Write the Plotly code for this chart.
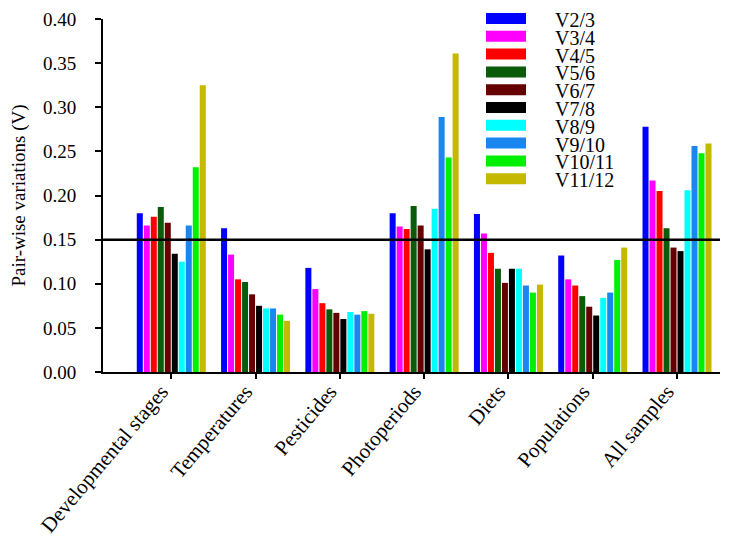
import plotly.graph_objects as go

categories = ["Developmental stages", "Temperatures", "Pesticides", "Photoperiods",
              "Diets", "Populations", "All samples"]
series_names = ["V2/3", "V3/4", "V4/5", "V5/6", "V6/7", "V7/8", "V8/9", "V9/10", "V10/11", "V11/12"]
series_colors = ["#0000FF", "#FF00FF", "#FF0000", "#0A5C0A", "#660000", "#000000",
                 "#00FFFF", "#1A86F0", "#00F000", "#C4B800"]

# values per series, ordered as categories
v2_3   = [0.180, 0.163, 0.118, 0.180, 0.179, 0.132, 0.278]
v3_4   = [0.166, 0.133, 0.094, 0.165, 0.157, 0.105, 0.217]
v4_5   = [0.176, 0.105, 0.078, 0.162, 0.135, 0.098, 0.205]
v5_6   = [0.187, 0.102, 0.071, 0.188, 0.117, 0.086, 0.163]
v6_7   = [0.169, 0.088, 0.067, 0.166, 0.101, 0.074, 0.141]
v7_8   = [0.134, 0.075, 0.060, 0.139, 0.117, 0.064, 0.137]
v8_9   = [0.125, 0.072, 0.068, 0.185, 0.117, 0.084, 0.206]
v9_10  = [0.166, 0.072, 0.065, 0.289, 0.098, 0.090, 0.256]
v10_11 = [0.232, 0.065, 0.069, 0.243, 0.090, 0.127, 0.248]
v11_12 = [0.325, 0.058, 0.066, 0.361, 0.099, 0.141, 0.259]
series_values = [v2_3, v3_4, v4_5, v5_6, v6_7, v7_8, v8_9, v9_10, v10_11, v11_12]

threshold = 0.15
y_ticks = [0.00, 0.05, 0.10, 0.15, 0.20, 0.25, 0.30, 0.35, 0.40]

FONT = "Liberation Serif"
OFF = 8                      # default page body margin
W, H = 717, 531
ML, MR, MT, MB = 95, 5, 11, 167
PW, PH = W - ML - MR, H - MT - MB

fig = go.Figure()
for name, color, vals in zip(series_names, series_colors, series_values):
    fig.add_trace(go.Bar(x=categories, y=vals, name=name, marker_color=color,
                         marker_line_width=0, showlegend=False))

fig.add_shape(type="line", xref="paper", yref="y", x0=0, x1=1, y0=threshold, y1=threshold,
              line=dict(color="black", width=2.5))

# manual legend (wide swatches like the original); page-pixel helpers
def px_x(x):
    return (x - OFF - ML) / PW

def px_y(y):
    return (OFF + H - MB - y) / PH

for i, (name, color) in enumerate(zip(series_names, series_colors)):
    yc = 18.5 + 17.8 * i
    fig.add_shape(type="rect", xref="paper", yref="paper",
                  x0=px_x(486), x1=px_x(526), y0=px_y(yc + 5.5), y1=px_y(yc - 5.5),
                  fillcolor=color, line=dict(width=0))
    fig.add_annotation(xref="paper", yref="paper", x=px_x(553), y=px_y(yc + 1),
                       text=name, showarrow=False, xanchor="left", yanchor="middle",
                       height=17,
                       font=dict(family=FONT, size=20, color="black"))

fig.update_layout(
    width=W, height=H,
    margin=dict(l=ML, r=MR, t=MT, b=MB, pad=0, autoexpand=False),
    paper_bgcolor="white", plot_bgcolor="white",
    barmode="group", bargap=0.17, bargroupgap=0.14,
    font=dict(family=FONT, color="black"),
    xaxis=dict(range=[-0.81, 6.51], showline=True, linecolor="black", linewidth=2,
               ticks="outside", ticklen=5, tickwidth=2, tickcolor="black",
               tickangle=-50, tickfont=dict(family=FONT, size=21, color="black"),
               automargin=False, ticklabelshift=-10, ticklabelstandoff=-8,
               ticklabeloverflow="allow",
               showgrid=False, zeroline=False),
    yaxis=dict(range=[0, 0.40], tickvals=y_ticks, tickformat=".2f",
               showline=True, linecolor="black", linewidth=2,
               ticks="outside", ticklen=6, tickwidth=2, tickcolor="black",
               tickfont=dict(family=FONT, size=19, color="black"),
               ticklabelstandoff=15, automargin=False, ticklabeloverflow="allow",
               showgrid=False, zeroline=False,
               title=dict(text="Pair-wise variations (V)", standoff=13,
                          font=dict(family=FONT, size=19, color="black"))),
)

fig.write_html("out.html")
